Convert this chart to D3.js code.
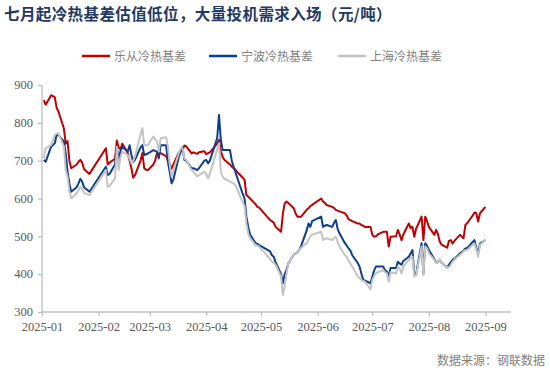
<!DOCTYPE html>
<html><head><meta charset="utf-8">
<script src="https://cdn.jsdelivr.net/npm/d3@7/dist/d3.min.js"></script>
<style>html,body{margin:0;padding:0;background:#fff;}svg{display:block;}</style>
</head><body>
<svg id="chart" width="550" height="376"></svg>
<script>
const title = "七月起冷热基差估值低位，大量投机需求入场（元/吨）";
const source = "数据来源：钢联数据";
const seriesNames = ["乐从冷热基差", "宁波冷热基差", "上海冷热基差"];
const seriesColors = ["#C00000", "#0D3E8E", "#C4C4C4"];
const yTicks = [300, 400, 500, 600, 700, 800, 900];
const xTickLabels = ["2025-01","2025-02","2025-03","2025-04","2025-05","2025-06","2025-07","2025-08","2025-09"];

const dates = ["2025-01-02","2025-01-03","2025-01-06","2025-01-08","2025-01-09","2025-01-10","2025-01-13","2025-01-14","2025-01-15","2025-01-16","2025-01-17","2025-01-20","2025-01-21","2025-01-22","2025-01-23","2025-01-24","2025-01-27",
"2025-02-05","2025-02-06","2025-02-07","2025-02-10","2025-02-11","2025-02-12","2025-02-13","2025-02-14","2025-02-17","2025-02-18","2025-02-19","2025-02-20","2025-02-21","2025-02-24","2025-02-25","2025-02-26","2025-02-27","2025-02-28",
"2025-03-03","2025-03-04","2025-03-05","2025-03-06","2025-03-07","2025-03-10","2025-03-11","2025-03-12","2025-03-13","2025-03-14","2025-03-17","2025-03-18","2025-03-19","2025-03-20","2025-03-21","2025-03-24","2025-03-25","2025-03-26","2025-03-27","2025-03-28","2025-03-31",
"2025-04-01","2025-04-02","2025-04-03","2025-04-07","2025-04-08","2025-04-09","2025-04-10","2025-04-11","2025-04-14","2025-04-15","2025-04-16","2025-04-17","2025-04-18","2025-04-21","2025-04-22","2025-04-23","2025-04-24","2025-04-25","2025-04-28","2025-04-29","2025-04-30",
"2025-05-06","2025-05-07","2025-05-08","2025-05-09","2025-05-12","2025-05-13","2025-05-14","2025-05-15","2025-05-16","2025-05-19","2025-05-20","2025-05-21","2025-05-22","2025-05-23","2025-05-26","2025-05-27","2025-05-28","2025-05-29",
"2025-06-03","2025-06-04","2025-06-05","2025-06-06","2025-06-09","2025-06-10","2025-06-11","2025-06-12","2025-06-13","2025-06-16","2025-06-17","2025-06-18","2025-06-19","2025-06-20","2025-06-23","2025-06-24","2025-06-25","2025-06-26","2025-06-27","2025-06-30",
"2025-07-01","2025-07-02","2025-07-03","2025-07-04","2025-07-07","2025-07-08","2025-07-09","2025-07-10","2025-07-11","2025-07-14","2025-07-15","2025-07-16","2025-07-17","2025-07-18","2025-07-21","2025-07-22","2025-07-23","2025-07-24","2025-07-25","2025-07-28","2025-07-29","2025-07-30","2025-07-31",
"2025-08-01","2025-08-04","2025-08-05","2025-08-06","2025-08-07","2025-08-08","2025-08-11","2025-08-12","2025-08-13","2025-08-14","2025-08-15","2025-08-18","2025-08-19","2025-08-20","2025-08-21","2025-08-22","2025-08-25","2025-08-26","2025-08-27","2025-08-28","2025-08-29","2025-09-01"];

const lecong = [860,848,873,868,840,830,785,745,752,700,680,690,697,702,695,678,665,
733,690,695,705,753,735,730,745,720,700,680,655,662,700,720,680,676,675,
690,700,720,718,720,712,700,690,678,690,722,725,728,740,738,719,722,720,718,722,725,
717,720,722,745,755,725,710,702,690,684,680,676,670,655,649,609,605,600,585,578,576,
543,540,536,525,512,560,587,592,588,574,560,552,552,552,570,574,580,583,
600,592,588,583,578,575,570,568,566,561,555,545,543,540,534,534,530,528,525,525,
504,499,500,505,512,512,512,473,499,500,517,505,490,505,534,522,525,499,520,552,490,552,540,
525,504,517,505,486,478,470,488,490,481,488,504,500,495,530,535,555,563,561,539,561,578];

const ningbo = [702,697,737,746,768,768,750,719,671,640,618,630,640,652,645,630,618,
684,662,665,690,737,702,725,737,724,741,715,697,703,735,741,715,717,719,
728,726,724,706,741,741,697,670,640,650,710,724,735,702,700,680,680,678,675,680,700,
702,693,700,760,821,755,728,728,728,700,684,670,655,612,600,552,525,505,482,480,477,
460,450,446,432,400,376,400,411,429,452,455,458,464,475,515,534,525,540,
552,525,528,530,525,535,543,520,508,482,475,468,462,450,430,420,402,385,383,376,
393,410,420,420,420,410,407,395,416,416,433,428,425,435,446,455,464,400,400,482,402,482,475,
464,440,430,433,438,430,418,425,432,438,440,455,458,462,468,469,485,490,470,455,481,490];

const shanghai = [706,733,741,768,772,772,737,675,658,620,600,614,622,631,625,615,609,
675,631,633,653,737,675,710,724,715,705,693,700,712,770,786,741,741,741,
764,757,750,724,759,762,737,690,658,675,720,733,733,706,702,675,670,665,658,662,671,
665,653,665,730,746,670,658,652,645,642,640,634,625,590,580,534,508,495,477,475,473,
440,433,430,425,394,345,370,402,429,452,455,458,464,470,482,490,500,504,
512,490,493,495,490,495,499,485,473,450,446,435,428,420,394,390,385,382,380,360,
385,395,402,405,411,405,402,380,405,402,420,415,402,420,438,442,446,394,396,473,398,473,468,
455,438,429,433,438,430,418,418,425,433,438,451,455,460,464,464,478,481,465,446,477,490];

const svg = d3.select("#chart");
const parse = d3.timeParse("%Y-%m-%d");
const x = d3.scaleTime().domain([parse("2025-01-01"), parse("2025-09-15")]).range([42, 511]);
const y = d3.scaleLinear().domain([300, 900]).range([312, 85]);

const serif = "'Liberation Serif','Times New Roman',serif";
const cjk = "'Noto Sans CJK SC','Noto Sans CJK JP',sans-serif";

svg.append("text").attr("x", 4).attr("y", 20).text(title)
  .attr("font-family", cjk).attr("font-size", 15.5).attr("letter-spacing", 0.4)
  .attr("font-weight", "bold").attr("fill", "#1F3864");

// legend
const legX = [82, 209, 338];
seriesNames.forEach((n, i) => {
  const g = svg.append("g").attr("transform", `translate(${legX[i]},56)`);
  g.append("line").attr("x1", 0).attr("x2", 28).attr("y1", 0).attr("y2", 0)
    .attr("stroke", seriesColors[i]).attr("stroke-width", 2.5);
  g.append("text").attr("x", 32).attr("y", 4.5).text(n)
    .attr("font-family", cjk).attr("font-size", 12).attr("fill", "#7F7F7F");
});

// axes
const yAxis = svg.append("g").attr("transform", "translate(42,0)")
  .call(d3.axisLeft(y).tickValues(yTicks).tickSize(4).tickPadding(5));
const tickDates = xTickLabels.map(s => parse(s + "-01"));
const xAxis = svg.append("g").attr("transform", "translate(0,312)")
  .call(d3.axisBottom(x).tickValues(tickDates).tickSize(4).tickPadding(6)
    .tickFormat((d, i) => xTickLabels[i]));
[yAxis, xAxis].forEach(a => {
  a.select(".domain").attr("stroke", "#BFBFBF").attr("stroke-width", 1.3);
  a.selectAll(".tick line").attr("stroke", "#BFBFBF").attr("stroke-width", 1.3);
  a.selectAll(".tick text").attr("font-family", serif).attr("font-size", 12.5).attr("fill", "#595959");
});
yAxis.selectAll(".tick text").attr("dy", "0.3em");
xAxis.select(".domain").attr("d", "M42,0H511");
yAxis.select(".domain").attr("d", "M0,312V85");

const line = d3.line().x((d, i) => x(parse(dates[i]))).y(d => y(d));
[lecong, ningbo, shanghai].forEach((vals, i) => {
  svg.append("path").datum(vals).attr("d", line)
    .attr("fill", "none").attr("stroke", seriesColors[i]).attr("stroke-width", 2)
    .attr("stroke-linejoin", "round");
});

svg.append("text").attr("x", 545).attr("y", 365).attr("text-anchor", "end").text(source)
  .attr("font-family", cjk).attr("font-size", 12).attr("fill", "#7F7F7F");
</script>
</body></html>
